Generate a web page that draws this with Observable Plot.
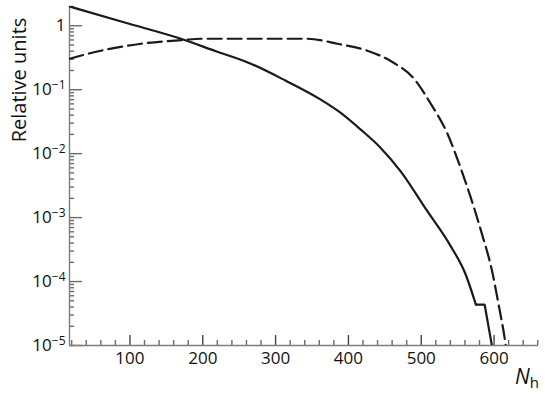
<!DOCTYPE html>
<html>
<head>
<meta charset="utf-8">
<script src="https://cdn.jsdelivr.net/npm/d3@7"></script>
<script src="https://cdn.jsdelivr.net/npm/@observablehq/plot@0.6"></script>
<style>
  html, body { margin: 0; padding: 0; background: #fff; }
</style>
</head>
<body>
<div id="chart"></div>
<script>
// Solid curve (smooth part) and its final step
const solidN = [17, 94, 170, 218, 266, 314, 362, 389, 417, 444, 472, 506, 540, 561, 575];
const solidY = [2.0, 1.114, 0.626, 0.399, 0.255, 0.138, 0.0698, 0.0437, 0.0237, 0.0124, 0.00523, 0.00138, 3.65e-4, 1.29e-4, 4.37e-5];
const stepN = [575, 587, 597];
const stepY = [4.37e-5, 4.37e-5, 1e-5];
// Dashed curve
const dashedN = [17, 60, 115, 174, 197, 344, 385, 426, 462, 490, 513, 536, 554, 568, 582, 598, 606, 615, 616];
const dashedY = [0.305, 0.407, 0.523, 0.60, 0.626, 0.626, 0.523, 0.407, 0.264, 0.149, 0.0604, 0.0205, 0.006, 0.00205, 6.26e-4, 1.33e-4, 4.5e-5, 1.2e-5, 1e-5];

// Axes
const xDomain = [17, 661];
const yDomain = [1e-5, 2];
const xMajorTicks = [100, 200, 300, 400, 500, 600];
const xMinorTicks = [20, 40, 60, 80, 120, 140, 160, 180, 220, 240, 260, 280, 320, 340, 360, 380, 420, 440, 460, 480, 520, 540, 560, 580, 620, 640, 660];
const yMajorTicks = [1, 0.1, 0.01, 0.001, 0.0001, 0.00001];
const yTickLabels = ["1", "10^\u22121", "10^\u22122", "10^\u22123", "10^\u22124", "10^\u22125"];
const yMinorMultipliers = [2, 3, 4, 5, 6, 7, 8, 9];
const yMinorTicks = [];
for (const d of yMajorTicks) for (const m of yMinorMultipliers) if (d * m <= yDomain[1]) yMinorTicks.push(d * m);
const yLabel = "Relative units";

const solid = solidN.map((n, i) => ({n, v: solidY[i]}));
const step = stepN.map((n, i) => ({n, v: stepY[i]}));
const dashed = dashedN.map((n, i) => ({n, v: dashedY[i]}));
const yLabelData = yMajorTicks.map((v, i) => ({v, label: yTickLabels[i]}));

const W = 545, H = 397, mL = 69, mR = 7, mT = 6, mB = 52;
const innerW = W - mL - mR, innerH = H - mT - mB;
const lineColor = "#1a1a1a";
const font = "'Open Sans', sans-serif";

const chart = Plot.plot({
  width: W,
  height: H,
  marginLeft: mL,
  marginRight: mR,
  marginTop: mT,
  marginBottom: mB,
  x: {domain: xDomain, axis: null},
  y: {type: "log", domain: yDomain, axis: null},
  marks: [
    // inward ticks
    Plot.tickX(xMinorTicks, {x: d => d, insetTop: innerH - 5, stroke: "#6a6a6a", strokeWidth: 1.4}),
    Plot.tickX(xMajorTicks, {x: d => d, insetTop: innerH - 10, stroke: "#444", strokeWidth: 1.4}),
    Plot.tickY(yMinorTicks, {y: d => d, insetRight: innerW - 5, stroke: "#6a6a6a", strokeWidth: 1.4}),
    Plot.tickY(yMajorTicks, {y: d => d, insetRight: innerW - 13, stroke: "#6a6a6a", strokeWidth: 1.4}),
    // axis lines
    Plot.ruleX([xDomain[0]], {stroke: "#7d7d7d", strokeWidth: 1.4}),
    Plot.ruleY([yDomain[0]], {stroke: "#7d7d7d", strokeWidth: 1.4}),
    // tick labels
    Plot.text(xMajorTicks, {x: d => d, frameAnchor: "bottom", lineAnchor: "top", dy: 6, text: d => String(d),
      fontSize: 17, fontFamily: font, fill: "#111"}),
    Plot.text(yLabelData, {y: "v", frameAnchor: "left", textAnchor: "end", dx: -4, text: "label",
      fontSize: 17, fontFamily: font, fill: "#111"}),
    // curves
    Plot.line(dashed, {x: "n", y: "v", stroke: lineColor, strokeWidth: 2.2, strokeDasharray: "14,6", curve: "monotone-x", clip: true}),
    Plot.line(solid, {x: "n", y: "v", stroke: lineColor, strokeWidth: 2.2, curve: "monotone-x", clip: true}),
    Plot.line(step, {x: "n", y: "v", stroke: lineColor, strokeWidth: 2.2, strokeLinejoin: "miter", clip: true})
  ]
});

document.getElementById("chart").appendChild(chart);

const svg = d3.select(chart);
// superscripts for y tick labels
svg.selectAll("text").each(function () {
  const t = d3.select(this);
  const s = t.text();
  const m = s.match(/^10\^(.+)$/);
  if (m) {
    t.text(null);
    t.append("tspan").text("10");
    t.append("tspan").attr("dy", "-0.5em").attr("font-size", "12px").text(m[1]);
  }
});
// y axis title
svg.append("text")
  .attr("transform", "translate(26,80) rotate(-90)")
  .attr("text-anchor", "middle")
  .attr("font-family", font)
  .attr("font-size", "20px")
  .attr("fill", "#111")
  .text(yLabel);
// x axis title N_h
const xt = svg.append("text")
  .attr("x", 515).attr("y", 384)
  .attr("text-anchor", "start")
  .attr("font-family", font)
  .attr("font-size", "21px")
  .attr("fill", "#111");
xt.append("tspan").attr("font-style", "italic").text("N");
xt.append("tspan").attr("font-size", "15px").attr("dy", "4").text("h");
</script>
</body>
</html>
